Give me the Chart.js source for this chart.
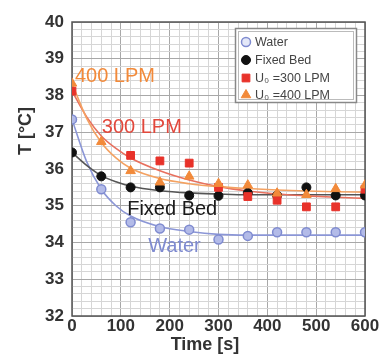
<!DOCTYPE html>
<html>
<head>
<meta charset="utf-8">
<script src="https://cdn.jsdelivr.net/npm/chart.js@4.4.1/dist/chart.umd.min.js"></script>
<style>
  html, body { margin: 0; padding: 0; background: #fff; }
  #wrap { width: 381px; height: 354px; }
</style>
</head>
<body>
<div id="wrap"><canvas id="myChart" width="381" height="354"></canvas></div>
<script>
// measured points, time [s] vs temperature [C]
let times = [0, 60, 120, 180, 240, 300, 360, 420, 480, 540, 600];
let waterT = [37.35, 35.45, 34.55, 34.38, 34.35, 34.08, 34.18, 34.28, 34.28, 34.28, 34.28];
let fixedT = [36.45, 35.8, 35.5, 35.5, 35.28, 35.27, 35.35, 35.28, 35.5, 35.28, 35.28];
let lpm300T = [38.12, null, 36.37, 36.22, 36.16, 35.5, 35.25, 35.15, 34.97, 34.97, 35.45];
let lpm400T = [38.33, 36.74, 35.95, 35.64, 35.8, 35.6, 35.56, 35.34, 35.3, 35.46, 35.56];

// fitted curves
let fitTimes = [0, 30, 60, 90, 120, 180, 240, 300, 360, 420, 480, 540, 600];
let waterFit = [37.35, 36.2, 35.45, 35.0, 34.72, 34.43, 34.3, 34.22, 34.2, 34.2, 34.2, 34.2, 34.2];
let fixedFit = [36.45, 36.1, 35.82, 35.65, 35.53, 35.41, 35.35, 35.32, 35.3, 35.3, 35.3, 35.3, 35.3];
let lpm300Fit = [38.12, 37.42, 36.9, 36.56, 36.3, 35.95, 35.7, 35.52, 35.4, 35.32, 35.27, 35.23, 35.2];
let lpm400Fit = [38.33, 37.38, 36.72, 36.3, 36.02, 35.74, 35.6, 35.52, 35.47, 35.43, 35.4, 35.38, 35.37];

let legendNames = ['Water', 'Fixed Bed', 'U\u2080 =300 LPM', 'U\u2080 =400 LPM'];
let curveNames = ['400 LPM', '300 LPM', 'Fixed Bed', 'Water'];
let curveNameX = [6, 61, 113, 156];
let curveNameY = [38.53, 37.12, 34.91, 33.9];

let c_water = '#7f8bd0';
let c_black = '#111111';
let c_red = '#e8322a';
let c_orange = '#f28a3a';

function pts(xs, ys) {
    return xs.map((x, i) => ({ x: x, y: ys[i] }));
}

function fitSet(data, color, ord) {
    return {
        type: 'line', data: pts(fitTimes, data), borderColor: color, borderWidth: 1.6,
        pointRadius: 0, tension: 0.4, cubicInterpolationMode: 'monotone', order: ord, fill: false
    };
}

let legendBox = {
    id: 'legendBox',
    afterDatasetsDraw(chart) {
        let ctx = chart.ctx;
        ctx.save();
        ctx.strokeStyle = '#888';
        ctx.lineWidth = 1.5;
        ctx.fillStyle = '#fff';
        ctx.fillRect(235, 28, 122, 75);
        ctx.strokeRect(235.5, 28.5, 121, 74);
        ctx.strokeStyle = '#bbb';
        ctx.lineWidth = 1;
        ctx.strokeRect(238.5, 31.5, 115, 68);
        let ys = [42, 60, 78, 95];
        let sets = [chart.data.datasets[4], chart.data.datasets[5], chart.data.datasets[6], chart.data.datasets[7]];
        ctx.font = '12.5px "Liberation Sans", Arial, sans-serif';
        ctx.textBaseline = 'middle';
        sets.forEach((ds, i) => {
            ctx.fillStyle = i === 0 ? '#e4e8f8' : ds.backgroundColor;
            ctx.strokeStyle = ds.borderColor;
            ctx.lineWidth = ds.borderWidth;
            Chart.helpers.drawPoint(ctx, { pointStyle: ds.pointStyle, radius: ds.pointRadius, borderWidth: ds.borderWidth }, 246, ys[i]);
            ctx.fillStyle = '#444';
            ctx.fillText(legendNames[i], 255, ys[i] + 1);
        });
        ctx.restore();
    }
};

let extras = {
    id: 'extras',
    beforeDatasetsDraw(chart) {
        let a = chart.chartArea, ctx = chart.ctx;
        ctx.save();
        ctx.strokeStyle = '#555';
        ctx.lineWidth = 1.5;
        ctx.strokeRect(a.left, a.top, a.right - a.left, a.bottom - a.top);
        ctx.restore();
    },
    afterDatasetsDraw(chart) {
        let ctx = chart.ctx, sx = chart.scales.x, sy = chart.scales.y;
        let cols = [c_orange, '#e2483c', '#1a1a1a', c_water];
        ctx.save();
        ctx.font = '20px "Liberation Sans", Arial, sans-serif';
        ctx.textBaseline = 'middle';
        ctx.textAlign = 'left';
        curveNames.forEach((t, i) => {
            ctx.fillStyle = cols[i];
            ctx.fillText(t, sx.getPixelForValue(curveNameX[i]), sy.getPixelForValue(curveNameY[i]));
        });
        // axis titles
        ctx.fillStyle = '#333';
        ctx.font = 'bold 18px "Liberation Sans", Arial, sans-serif';
        ctx.textAlign = 'center';
        ctx.fillText('Time [s]', 205, 345);
        ctx.translate(26, 131);
        ctx.rotate(-Math.PI / 2);
        ctx.fillText('T [\u00B0C]', 0, 0);
        ctx.restore();
    }
};

function gridCol(ctx, step) {
    let v = ctx.tick.value;
    return Math.abs(v / step - Math.round(v / step)) < 1e-6 ? '#a8a8a8' : '#d6d6d6';
}

let chart = new Chart(document.getElementById('myChart').getContext('2d'), {
    type: 'scatter',
    data: {
        datasets: [
            fitSet(waterFit, '#8b96d6', 20),
            fitSet(fixedFit, '#555555', 19),
            fitSet(lpm300Fit, '#e8705e', 18),
            fitSet(lpm400Fit, '#f4a262', 17),
            { data: pts(times, waterT), pointStyle: 'circle', pointRadius: 4.5, backgroundColor: '#b3bbe8', borderColor: c_water, borderWidth: 1.5, order: 4 },
            { data: pts(times, fixedT), pointStyle: 'circle', pointRadius: 4.5, backgroundColor: c_black, borderColor: c_black, borderWidth: 1, order: 3 },
            { data: pts(times, lpm300T), pointStyle: 'rect', pointRadius: 5.5, backgroundColor: c_red, borderColor: c_red, borderWidth: 1, order: 2 },
            { data: pts(times, lpm400T), pointStyle: 'triangle', pointRadius: 5.5, backgroundColor: c_orange, borderColor: c_orange, borderWidth: 1, order: 1 }
        ]
    },
    options: {
        responsive: false,
        animation: false,
        layout: { padding: { top: 22, right: 16, left: 0, bottom: 0 } },
        plugins: { legend: { display: false }, tooltip: { enabled: false } },
        scales: {
            x: {
                type: 'linear', min: 0, max: 600,
                afterFit: s => { s.height = 38; },
                border: { display: false },
                grid: { color: c => gridCol(c, 100), drawTicks: false, lineWidth: 1 },
                ticks: {
                    stepSize: 20, autoSkip: false, maxRotation: 0, padding: 0,
                    color: '#333', font: { size: 17, weight: 'bold', family: '"Liberation Sans", Arial, sans-serif' },
                    callback: v => (v % 100 === 0 ? v : '')
                }
            },
            y: {
                type: 'linear', min: 32, max: 40,
                afterFit: s => { s.width = 72; },
                border: { display: false },
                grid: { color: c => gridCol(c, 1), drawTicks: false, lineWidth: 1 },
                ticks: {
                    stepSize: 0.2, autoSkip: false, padding: 8,
                    color: '#333', font: { size: 17, weight: 'bold', family: '"Liberation Sans", Arial, sans-serif' },
                    callback: v => (Math.abs(v - Math.round(v)) < 1e-6 ? Math.round(v) : '')
                }
            }
        }
    },
    plugins: [extras, legendBox]
});
</script>
</body>
</html>
